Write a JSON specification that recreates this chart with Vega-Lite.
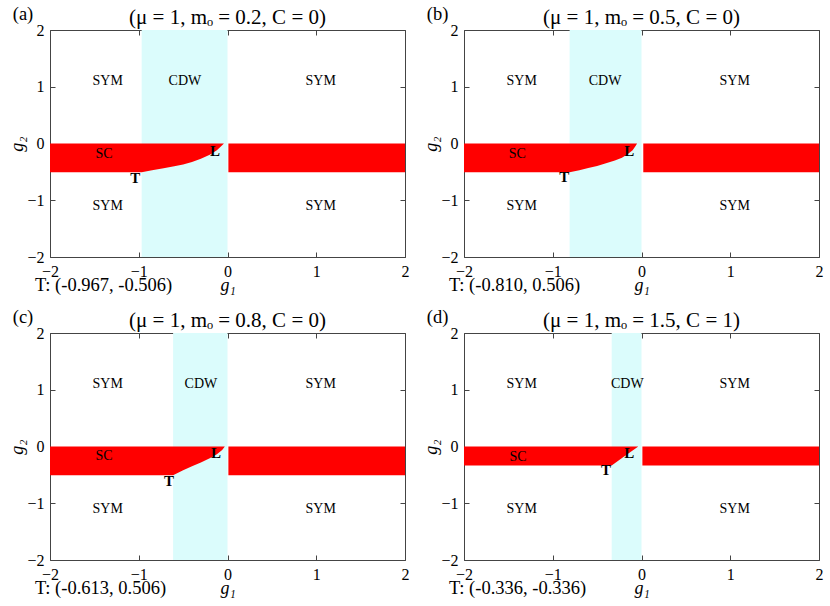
{
  "$schema": "https://vega.github.io/schema/vega-lite/v6.json",
  "padding": {"left": 8, "top": 4, "right": 5, "bottom": 5},
  "background": "white",
  "columns": 2,
  "spacing": {"row": 76, "column": 59},
  "bounds": "flush",
  "config": {
    "font": "Liberation Serif",
    "view": {"stroke": "#444", "strokeWidth": 1},
    "axis": {"grid": false, "domain": false, "tickSize": -5, "tickColor": "#444", "labelFont": "Liberation Serif", "labelFontSize": 16, "labelColor": "#000", "labelPadding": 11, "labelFlush": false, "titleFont": "Liberation Serif", "titleFontSize": 18, "titleFontStyle": "italic", "titleFontWeight": "normal", "titleColor": "#000"},
    "text": {"font": "Liberation Serif", "color": "#000"}
  },
  "concat": [
    {
      "width": 355, "height": 227,
      "resolve": {"axis": {"x": "independent", "y": "independent"}},
      "layer": [
        {"data": {"values": [{"a": -0.967, "b": 0, "lo": -2, "hi": 2}]},
         "mark": {"type": "rect", "color": "#dbfcfc"},
         "encoding": {
           "x": {"field": "a", "type": "quantitative", "scale": {"domain": [-2, 2], "nice": false, "zero": false}, "axis": {"values": [-2, -1, 0, 1, 2], "title": "g₁", "titlePadding": -3}},
           "x2": {"field": "b"},
           "y": {"field": "lo", "type": "quantitative", "scale": {"domain": [-2, 2], "nice": false, "zero": false}, "axis": {"values": [-2, -1, 0, 1, 2], "title": "g₂", "titlePadding": 0}},
           "y2": {"field": "hi"}}},
        {"data": {"values": [{"a": 0.01, "b": 2, "lo": -0.506, "hi": 0}]},
         "mark": {"type": "rect", "color": "#ff0000"},
         "encoding": {
           "x": {"field": "a", "type": "quantitative", "axis": {"orient": "top", "values": [-2, -1, 0, 1, 2], "labels": false, "title": null}},
           "x2": {"field": "b"},
           "y": {"field": "lo", "type": "quantitative", "axis": {"orient": "right", "values": [-2, -1, 0, 1, 2], "labels": false, "title": null}},
           "y2": {"field": "hi"}}},
        {"data": {"values": [{"g1": -2, "lo": -0.506}, {"g1": -0.967, "lo": -0.506}, {"g1": -0.85, "lo": -0.472}, {"g1": -0.72, "lo": -0.437}, {"g1": -0.6, "lo": -0.403}, {"g1": -0.5, "lo": -0.37}, {"g1": -0.4, "lo": -0.325}, {"g1": -0.3, "lo": -0.27}, {"g1": -0.2, "lo": -0.2}, {"g1": -0.12, "lo": -0.12}, {"g1": -0.06, "lo": -0.03}, {"g1": -0.04, "lo": 0}]},
         "mark": {"type": "area", "color": "#ff0000", "orient": "vertical"},
         "encoding": {"x": {"field": "g1", "type": "quantitative", "axis": null}, "y": {"field": "lo", "type": "quantitative", "axis": null}, "y2": {"datum": 0}}},
        {"data": {"values": [{"t": "SYM", "g1": -1.35, "g2": 1.1}, {"t": "CDW", "g1": -0.48, "g2": 1.1}, {"t": "SYM", "g1": 1.05, "g2": 1.1}, {"t": "SYM", "g1": -1.35, "g2": -1.1}, {"t": "SYM", "g1": 1.05, "g2": -1.1}, {"t": "SC", "g1": -1.39, "g2": -0.18}]},
         "mark": {"type": "text", "fontSize": 14, "font": "Liberation Serif"},
         "encoding": {"x": {"field": "g1", "type": "quantitative", "axis": null}, "y": {"field": "g2", "type": "quantitative", "axis": null}, "text": {"field": "t"}}},
        {"data": {"values": [{"t": "T", "g1": -1.04, "g2": -0.6}, {"t": "L", "g1": -0.14, "g2": -0.14}]},
         "mark": {"type": "text", "fontSize": 15, "fontWeight": "bold", "font": "Liberation Serif"},
         "encoding": {"x": {"field": "g1", "type": "quantitative", "axis": null}, "y": {"field": "g2", "type": "quantitative", "axis": null}, "text": {"field": "t"}}},
        {"data": {"values": [{"t": "T: (-0.967, -0.506)", "g1": -2.17, "g2": -2.5}, {"t": "(a)", "g1": -2.42, "g2": 2.29}]},
         "mark": {"type": "text", "fontSize": 18.5, "align": "left", "font": "Liberation Serif"},
         "encoding": {"x": {"field": "g1", "type": "quantitative", "axis": null}, "y": {"field": "g2", "type": "quantitative", "axis": null}, "text": {"field": "t"}}},
        {"data": {"values": [{"t": "(μ = 1, mₒ = 0.2, C = 0)", "g1": 0, "g2": 2.22}]},
         "mark": {"type": "text", "fontSize": 21, "align": "center", "font": "Liberation Serif"},
         "encoding": {"x": {"field": "g1", "type": "quantitative", "axis": null}, "y": {"field": "g2", "type": "quantitative", "axis": null}, "text": {"field": "t"}}}
      ]
    },
    {
      "width": 355, "height": 227,
      "resolve": {"axis": {"x": "independent", "y": "independent"}},
      "layer": [
        {"data": {"values": [{"a": -0.81, "b": 0, "lo": -2, "hi": 2}]},
         "mark": {"type": "rect", "color": "#dbfcfc"},
         "encoding": {
           "x": {"field": "a", "type": "quantitative", "scale": {"domain": [-2, 2], "nice": false, "zero": false}, "axis": {"values": [-2, -1, 0, 1, 2], "title": "g₁", "titlePadding": -3}},
           "x2": {"field": "b"},
           "y": {"field": "lo", "type": "quantitative", "scale": {"domain": [-2, 2], "nice": false, "zero": false}, "axis": {"values": [-2, -1, 0, 1, 2], "title": "g₂", "titlePadding": 0}},
           "y2": {"field": "hi"}}},
        {"data": {"values": [{"a": 0.02, "b": 2, "lo": -0.506, "hi": 0}]},
         "mark": {"type": "rect", "color": "#ff0000"},
         "encoding": {
           "x": {"field": "a", "type": "quantitative", "axis": {"orient": "top", "values": [-2, -1, 0, 1, 2], "labels": false, "title": null}},
           "x2": {"field": "b"},
           "y": {"field": "lo", "type": "quantitative", "axis": {"orient": "right", "values": [-2, -1, 0, 1, 2], "labels": false, "title": null}},
           "y2": {"field": "hi"}}},
        {"data": {"values": [{"g1": -2, "lo": -0.506}, {"g1": -0.81, "lo": -0.506}, {"g1": -0.7, "lo": -0.47}, {"g1": -0.6, "lo": -0.43}, {"g1": -0.5, "lo": -0.395}, {"g1": -0.4, "lo": -0.35}, {"g1": -0.3, "lo": -0.3}, {"g1": -0.22, "lo": -0.25}, {"g1": -0.15, "lo": -0.18}, {"g1": -0.1, "lo": -0.12}, {"g1": -0.065, "lo": -0.04}, {"g1": -0.05, "lo": 0}]},
         "mark": {"type": "area", "color": "#ff0000", "orient": "vertical"},
         "encoding": {"x": {"field": "g1", "type": "quantitative", "axis": null}, "y": {"field": "lo", "type": "quantitative", "axis": null}, "y2": {"datum": 0}}},
        {"data": {"values": [{"t": "SYM", "g1": -1.35, "g2": 1.1}, {"t": "CDW", "g1": -0.41, "g2": 1.1}, {"t": "SYM", "g1": 1.05, "g2": 1.1}, {"t": "SYM", "g1": -1.35, "g2": -1.1}, {"t": "SYM", "g1": 1.05, "g2": -1.1}, {"t": "SC", "g1": -1.4, "g2": -0.18}]},
         "mark": {"type": "text", "fontSize": 14, "font": "Liberation Serif"},
         "encoding": {"x": {"field": "g1", "type": "quantitative", "axis": null}, "y": {"field": "g2", "type": "quantitative", "axis": null}, "text": {"field": "t"}}},
        {"data": {"values": [{"t": "T", "g1": -0.87, "g2": -0.59}, {"t": "L", "g1": -0.137, "g2": -0.13}]},
         "mark": {"type": "text", "fontSize": 15, "fontWeight": "bold", "font": "Liberation Serif"},
         "encoding": {"x": {"field": "g1", "type": "quantitative", "axis": null}, "y": {"field": "g2", "type": "quantitative", "axis": null}, "text": {"field": "t"}}},
        {"data": {"values": [{"t": "T: (-0.810, 0.506)", "g1": -2.17, "g2": -2.5}, {"t": "(b)", "g1": -2.42, "g2": 2.29}]},
         "mark": {"type": "text", "fontSize": 18.5, "align": "left", "font": "Liberation Serif"},
         "encoding": {"x": {"field": "g1", "type": "quantitative", "axis": null}, "y": {"field": "g2", "type": "quantitative", "axis": null}, "text": {"field": "t"}}},
        {"data": {"values": [{"t": "(μ = 1, mₒ = 0.5, C = 0)", "g1": 0, "g2": 2.22}]},
         "mark": {"type": "text", "fontSize": 21, "align": "center", "font": "Liberation Serif"},
         "encoding": {"x": {"field": "g1", "type": "quantitative", "axis": null}, "y": {"field": "g2", "type": "quantitative", "axis": null}, "text": {"field": "t"}}}
      ]
    },
    {
      "width": 355, "height": 227,
      "resolve": {"axis": {"x": "independent", "y": "independent"}},
      "layer": [
        {"data": {"values": [{"a": -0.613, "b": 0, "lo": -2, "hi": 2}]},
         "mark": {"type": "rect", "color": "#dbfcfc"},
         "encoding": {
           "x": {"field": "a", "type": "quantitative", "scale": {"domain": [-2, 2], "nice": false, "zero": false}, "axis": {"values": [-2, -1, 0, 1, 2], "title": "g₁", "titlePadding": -3}},
           "x2": {"field": "b"},
           "y": {"field": "lo", "type": "quantitative", "scale": {"domain": [-2, 2], "nice": false, "zero": false}, "axis": {"values": [-2, -1, 0, 1, 2], "title": "g₂", "titlePadding": 0}},
           "y2": {"field": "hi"}}},
        {"data": {"values": [{"a": 0.01, "b": 2, "lo": -0.506, "hi": 0}]},
         "mark": {"type": "rect", "color": "#ff0000"},
         "encoding": {
           "x": {"field": "a", "type": "quantitative", "axis": {"orient": "top", "values": [-2, -1, 0, 1, 2], "labels": false, "title": null}},
           "x2": {"field": "b"},
           "y": {"field": "lo", "type": "quantitative", "axis": {"orient": "right", "values": [-2, -1, 0, 1, 2], "labels": false, "title": null}},
           "y2": {"field": "hi"}}},
        {"data": {"values": [{"g1": -2, "lo": -0.506}, {"g1": -0.613, "lo": -0.506}, {"g1": -0.5, "lo": -0.42}, {"g1": -0.4, "lo": -0.35}, {"g1": -0.3, "lo": -0.28}, {"g1": -0.2, "lo": -0.205}, {"g1": -0.12, "lo": -0.135}, {"g1": -0.06, "lo": -0.06}, {"g1": -0.03, "lo": 0}]},
         "mark": {"type": "area", "color": "#ff0000", "orient": "vertical"},
         "encoding": {"x": {"field": "g1", "type": "quantitative", "axis": null}, "y": {"field": "lo", "type": "quantitative", "axis": null}, "y2": {"datum": 0}}},
        {"data": {"values": [{"t": "SYM", "g1": -1.35, "g2": 1.1}, {"t": "CDW", "g1": -0.3, "g2": 1.1}, {"t": "SYM", "g1": 1.05, "g2": 1.1}, {"t": "SYM", "g1": -1.35, "g2": -1.1}, {"t": "SYM", "g1": 1.05, "g2": -1.1}, {"t": "SC", "g1": -1.39, "g2": -0.17}]},
         "mark": {"type": "text", "fontSize": 14, "font": "Liberation Serif"},
         "encoding": {"x": {"field": "g1", "type": "quantitative", "axis": null}, "y": {"field": "g2", "type": "quantitative", "axis": null}, "text": {"field": "t"}}},
        {"data": {"values": [{"t": "T", "g1": -0.66, "g2": -0.6}, {"t": "L", "g1": -0.13, "g2": -0.12}]},
         "mark": {"type": "text", "fontSize": 15, "fontWeight": "bold", "font": "Liberation Serif"},
         "encoding": {"x": {"field": "g1", "type": "quantitative", "axis": null}, "y": {"field": "g2", "type": "quantitative", "axis": null}, "text": {"field": "t"}}},
        {"data": {"values": [{"t": "T: (-0.613, 0.506)", "g1": -2.17, "g2": -2.5}, {"t": "(c)", "g1": -2.42, "g2": 2.29}]},
         "mark": {"type": "text", "fontSize": 18.5, "align": "left", "font": "Liberation Serif"},
         "encoding": {"x": {"field": "g1", "type": "quantitative", "axis": null}, "y": {"field": "g2", "type": "quantitative", "axis": null}, "text": {"field": "t"}}},
        {"data": {"values": [{"t": "(μ = 1, mₒ = 0.8, C = 0)", "g1": 0, "g2": 2.22}]},
         "mark": {"type": "text", "fontSize": 21, "align": "center", "font": "Liberation Serif"},
         "encoding": {"x": {"field": "g1", "type": "quantitative", "axis": null}, "y": {"field": "g2", "type": "quantitative", "axis": null}, "text": {"field": "t"}}}
      ]
    },
    {
      "width": 355, "height": 227,
      "resolve": {"axis": {"x": "independent", "y": "independent"}},
      "layer": [
        {"data": {"values": [{"a": -0.336, "b": 0, "lo": -2, "hi": 2}]},
         "mark": {"type": "rect", "color": "#dbfcfc"},
         "encoding": {
           "x": {"field": "a", "type": "quantitative", "scale": {"domain": [-2, 2], "nice": false, "zero": false}, "axis": {"values": [-2, -1, 0, 1, 2], "title": "g₁", "titlePadding": -3}},
           "x2": {"field": "b"},
           "y": {"field": "lo", "type": "quantitative", "scale": {"domain": [-2, 2], "nice": false, "zero": false}, "axis": {"values": [-2, -1, 0, 1, 2], "title": "g₂", "titlePadding": 0}},
           "y2": {"field": "hi"}}},
        {"data": {"values": [{"a": 0.01, "b": 2, "lo": -0.336, "hi": 0}]},
         "mark": {"type": "rect", "color": "#ff0000"},
         "encoding": {
           "x": {"field": "a", "type": "quantitative", "axis": {"orient": "top", "values": [-2, -1, 0, 1, 2], "labels": false, "title": null}},
           "x2": {"field": "b"},
           "y": {"field": "lo", "type": "quantitative", "axis": {"orient": "right", "values": [-2, -1, 0, 1, 2], "labels": false, "title": null}},
           "y2": {"field": "hi"}}},
        {"data": {"values": [{"g1": -2, "lo": -0.336}, {"g1": -0.336, "lo": -0.336}, {"g1": -0.2, "lo": -0.18}, {"g1": -0.1, "lo": -0.07}, {"g1": -0.036, "lo": 0}]},
         "mark": {"type": "area", "color": "#ff0000", "orient": "vertical"},
         "encoding": {"x": {"field": "g1", "type": "quantitative", "axis": null}, "y": {"field": "lo", "type": "quantitative", "axis": null}, "y2": {"datum": 0}}},
        {"data": {"values": [{"t": "SYM", "g1": -1.35, "g2": 1.1}, {"t": "CDW", "g1": -0.16, "g2": 1.1}, {"t": "SYM", "g1": 1.05, "g2": 1.1}, {"t": "SYM", "g1": -1.35, "g2": -1.1}, {"t": "SYM", "g1": 1.05, "g2": -1.1}, {"t": "SC", "g1": -1.39, "g2": -0.19}]},
         "mark": {"type": "text", "fontSize": 14, "font": "Liberation Serif"},
         "encoding": {"x": {"field": "g1", "type": "quantitative", "axis": null}, "y": {"field": "g2", "type": "quantitative", "axis": null}, "text": {"field": "t"}}},
        {"data": {"values": [{"t": "T", "g1": -0.4, "g2": -0.42}, {"t": "L", "g1": -0.137, "g2": -0.12}]},
         "mark": {"type": "text", "fontSize": 15, "fontWeight": "bold", "font": "Liberation Serif"},
         "encoding": {"x": {"field": "g1", "type": "quantitative", "axis": null}, "y": {"field": "g2", "type": "quantitative", "axis": null}, "text": {"field": "t"}}},
        {"data": {"values": [{"t": "T: (-0.336, -0.336)", "g1": -2.17, "g2": -2.5}, {"t": "(d)", "g1": -2.42, "g2": 2.29}]},
         "mark": {"type": "text", "fontSize": 18.5, "align": "left", "font": "Liberation Serif"},
         "encoding": {"x": {"field": "g1", "type": "quantitative", "axis": null}, "y": {"field": "g2", "type": "quantitative", "axis": null}, "text": {"field": "t"}}},
        {"data": {"values": [{"t": "(μ = 1, mₒ = 1.5, C = 1)", "g1": 0, "g2": 2.22}]},
         "mark": {"type": "text", "fontSize": 21, "align": "center", "font": "Liberation Serif"},
         "encoding": {"x": {"field": "g1", "type": "quantitative", "axis": null}, "y": {"field": "g2", "type": "quantitative", "axis": null}, "text": {"field": "t"}}}
      ]
    }
  ]
}
